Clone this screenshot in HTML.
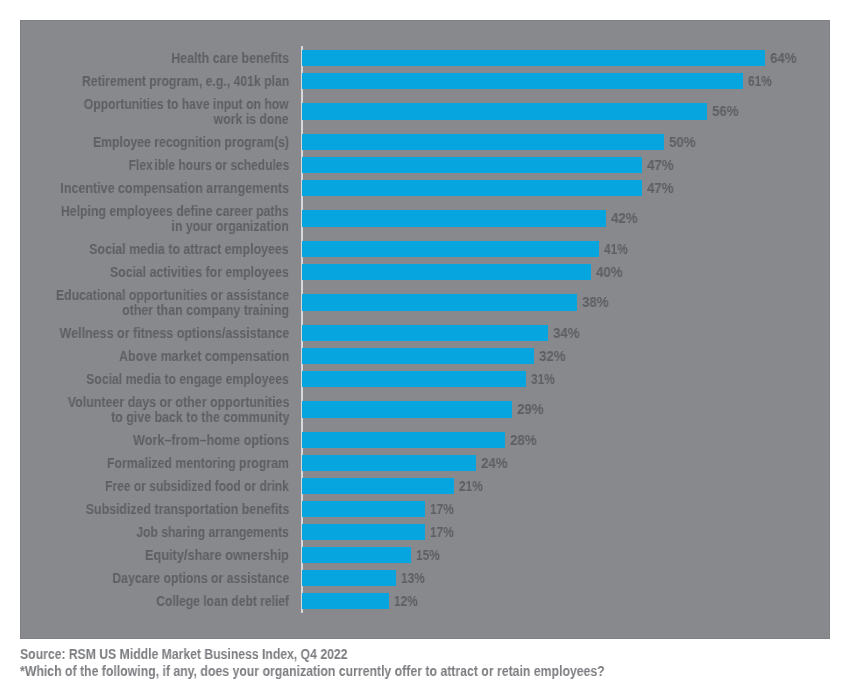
<!DOCTYPE html>
<html><head><meta charset="utf-8"><style>
*{margin:0;padding:0;box-sizing:border-box}
html,body{width:850px;height:695px;background:#fff;overflow:hidden}
body{position:relative;font-family:"Liberation Sans",sans-serif;-webkit-font-smoothing:antialiased}
.lbl span,.pct,.src{will-change:transform}
.box{position:absolute;left:20px;top:20px;width:810px;height:619px;background:#88898d;box-shadow:inset 0 0 0 1px #808185}
.axis{position:absolute;left:301px;top:46px;width:2px;height:567px;background:#d8d8da}
.bar{position:absolute;left:302px;height:16px;background:#07a5df}
.lbl{position:absolute;right:561px;text-align:right;color:#5e5f63;font-weight:bold;font-size:14px;line-height:15px;white-space:nowrap}
.lbl span{display:block;transform-origin:right center}
.pct{position:absolute;color:#5e5f63;font-weight:bold;font-size:14px;line-height:16px;white-space:nowrap;transform-origin:left center}
.src{position:absolute;left:20px;color:#7c7d81;font-weight:bold;font-size:14px;line-height:17px;white-space:nowrap;transform-origin:left center}
</style></head><body>
<div class="box"></div>
<div class="axis"></div>

<div class="bar" style="top:50px;width:463.0px;height:16px"></div>
<div class="lbl" style="top:50.5px"><span style="transform:scaleX(0.8849)">Health care benefits</span></div>
<div class="pct" style="left:770.0px;top:50px;transform:scaleX(0.95)">64%</div>
<div class="bar" style="top:73px;width:441.3px;height:16px"></div>
<div class="lbl" style="top:73.5px"><span style="transform:scaleX(0.8738)">Retirement program, e.g., 401k plan</span></div>
<div class="pct" style="left:748.3px;top:73px;transform:scaleX(0.85)">61%</div>
<div class="bar" style="top:103px;width:405.1px;height:17px"></div>
<div class="lbl" style="top:97.0px"><span style="transform:scaleX(0.8696)">Opportunities to have input on how</span><span style="transform:scaleX(0.876)">work is done</span></div>
<div class="pct" style="left:712.1px;top:103px;transform:scaleX(0.95)">56%</div>
<div class="bar" style="top:134px;width:361.7px;height:16px"></div>
<div class="lbl" style="top:134.5px"><span style="transform:scaleX(0.8752)">Employee recognition program(s)</span></div>
<div class="pct" style="left:668.7px;top:134px;transform:scaleX(0.95)">50%</div>
<div class="bar" style="top:157px;width:340.0px;height:16px"></div>
<div class="lbl" style="top:157.5px"><span style="transform:scaleX(0.8577)">Flex<i style="display:inline-block;width:2px"></i>ible hours or schedules</span></div>
<div class="pct" style="left:647.0px;top:157px;transform:scaleX(0.95)">47%</div>
<div class="bar" style="top:180px;width:340.0px;height:16px"></div>
<div class="lbl" style="top:180.5px"><span style="transform:scaleX(0.8933)">Incentive compensation arrangements</span></div>
<div class="pct" style="left:647.0px;top:180px;transform:scaleX(0.95)">47%</div>
<div class="bar" style="top:210px;width:303.8px;height:17px"></div>
<div class="lbl" style="top:204.0px"><span style="transform:scaleX(0.8772)">Helping employees define career paths</span><span style="transform:scaleX(0.8773)">in your organization</span></div>
<div class="pct" style="left:610.8px;top:210px;transform:scaleX(0.95)">42%</div>
<div class="bar" style="top:241px;width:296.6px;height:16px"></div>
<div class="lbl" style="top:241.5px"><span style="transform:scaleX(0.884)">Social media to attract employees</span></div>
<div class="pct" style="left:603.6px;top:241px;transform:scaleX(0.85)">41%</div>
<div class="bar" style="top:264px;width:289.4px;height:16px"></div>
<div class="lbl" style="top:264.5px"><span style="transform:scaleX(0.8777)">Social activities for employees</span></div>
<div class="pct" style="left:596.4px;top:264px;transform:scaleX(0.95)">40%</div>
<div class="bar" style="top:294px;width:274.9px;height:17px"></div>
<div class="lbl" style="top:288.0px"><span style="transform:scaleX(0.8764)">Educational opportunities or assistance</span><span style="transform:scaleX(0.8832)">other than company training</span></div>
<div class="pct" style="left:581.9px;top:294px;transform:scaleX(0.95)">38%</div>
<div class="bar" style="top:325px;width:246.0px;height:16px"></div>
<div class="lbl" style="top:325.5px"><span style="transform:scaleX(0.8929)">Wellness or fitness options/assistance</span></div>
<div class="pct" style="left:553.0px;top:325px;transform:scaleX(0.95)">34%</div>
<div class="bar" style="top:348px;width:231.5px;height:16px"></div>
<div class="lbl" style="top:348.5px"><span style="transform:scaleX(0.8901)">Above market compensation</span></div>
<div class="pct" style="left:538.5px;top:348px;transform:scaleX(0.95)">32%</div>
<div class="bar" style="top:371px;width:224.3px;height:16px"></div>
<div class="lbl" style="top:371.5px"><span style="transform:scaleX(0.8744)">Social media to engage employees</span></div>
<div class="pct" style="left:531.3px;top:371px;transform:scaleX(0.85)">31%</div>
<div class="bar" style="top:401px;width:209.8px;height:17px"></div>
<div class="lbl" style="top:395.0px"><span style="transform:scaleX(0.8887)">Volunteer days or other opportunities</span><span style="transform:scaleX(0.885)">to give back to the community</span></div>
<div class="pct" style="left:516.8px;top:401px;transform:scaleX(0.95)">29%</div>
<div class="bar" style="top:432px;width:202.6px;height:16px"></div>
<div class="lbl" style="top:432.5px"><span style="transform:scaleX(0.902)">Work–from–home options</span></div>
<div class="pct" style="left:509.6px;top:432px;transform:scaleX(0.95)">28%</div>
<div class="bar" style="top:455px;width:173.6px;height:16px"></div>
<div class="lbl" style="top:455.5px"><span style="transform:scaleX(0.8793)">Formalized mentoring program</span></div>
<div class="pct" style="left:480.6px;top:455px;transform:scaleX(0.95)">24%</div>
<div class="bar" style="top:478px;width:151.9px;height:16px"></div>
<div class="lbl" style="top:478.5px"><span style="transform:scaleX(0.8594)">Free or subsidized food or drink</span></div>
<div class="pct" style="left:458.9px;top:478px;transform:scaleX(0.85)">21%</div>
<div class="bar" style="top:501px;width:123.0px;height:16px"></div>
<div class="lbl" style="top:501.5px"><span style="transform:scaleX(0.884)">Subsidized transportation benefits</span></div>
<div class="pct" style="left:430.0px;top:501px;transform:scaleX(0.85)">17%</div>
<div class="bar" style="top:524px;width:123.0px;height:16px"></div>
<div class="lbl" style="top:524.5px"><span style="transform:scaleX(0.8672)">Job sharing arrangements</span></div>
<div class="pct" style="left:430.0px;top:524px;transform:scaleX(0.85)">17%</div>
<div class="bar" style="top:547px;width:108.5px;height:16px"></div>
<div class="lbl" style="top:547.5px"><span style="transform:scaleX(0.9118)">Equity/share ownership</span></div>
<div class="pct" style="left:415.5px;top:547px;transform:scaleX(0.85)">15%</div>
<div class="bar" style="top:570px;width:94.0px;height:16px"></div>
<div class="lbl" style="top:570.5px"><span style="transform:scaleX(0.8749)">Daycare options or assistance</span></div>
<div class="pct" style="left:401.0px;top:570px;transform:scaleX(0.85)">13%</div>
<div class="bar" style="top:593px;width:86.8px;height:16px"></div>
<div class="lbl" style="top:593.5px"><span style="transform:scaleX(0.8617)">College loan debt relief</span></div>
<div class="pct" style="left:393.8px;top:593px;transform:scaleX(0.85)">12%</div>
<div class="src" style="top:646px;transform:scaleX(0.8713)">Source: RSM US Middle Market Business Index, Q4 2022</div>
<div class="src" style="top:663px;transform:scaleX(0.8764)">*Which of the following, if any, does your organization currently offer to attract or retain employees?</div>
</body></html>
